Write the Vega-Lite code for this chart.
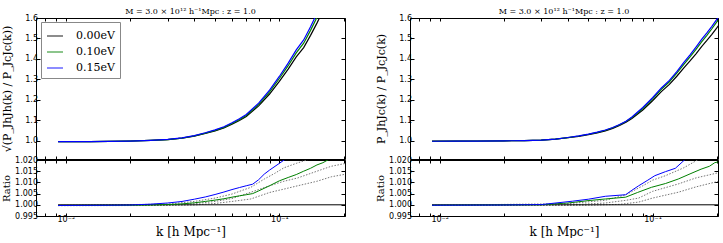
{
  "$schema": "https://vega.github.io/schema/vega-lite/v6.json",
  "padding": {"left": 0, "top": 7, "right": 0, "bottom": 0},
  "config": {
    "view": {"stroke": "black", "strokeWidth": 1},
    "axis": {"domain": false, "grid": false, "tickColor": "black", "labelColor": "black", "labelFont": "DejaVu Sans", "labelFontSize": 8, "titleFont": "DejaVu Serif", "titleFontWeight": "normal", "titleColor": "black", "tickSize": -4, "labelPadding": 2.5, "minExtent": 0},
    "axisLeft": {"minExtent": 22, "maxExtent": 22},
    "legend": {"labelFont": "DejaVu Serif", "labelFontSize": 11}
  },
  "datasets": {
    "topL": [
      {"s": "0.00eV", "k": 0.0092, "v": 0.995}, {"s": "0.00eV", "k": 0.011, "v": 0.995}, {"s": "0.00eV", "k": 0.013, "v": 0.9955}, {"s": "0.00eV", "k": 0.016, "v": 0.9965}, {"s": "0.00eV", "k": 0.02, "v": 0.998}, {"s": "0.00eV", "k": 0.025, "v": 1.001}, {"s": "0.00eV", "k": 0.03, "v": 1.005}, {"s": "0.00eV", "k": 0.035, "v": 1.012}, {"s": "0.00eV", "k": 0.04, "v": 1.022}, {"s": "0.00eV", "k": 0.045, "v": 1.035}, {"s": "0.00eV", "k": 0.05, "v": 1.048}, {"s": "0.00eV", "k": 0.055, "v": 1.062}, {"s": "0.00eV", "k": 0.06, "v": 1.08}, {"s": "0.00eV", "k": 0.065, "v": 1.098}, {"s": "0.00eV", "k": 0.07, "v": 1.118}, {"s": "0.00eV", "k": 0.08, "v": 1.17}, {"s": "0.00eV", "k": 0.09, "v": 1.228}, {"s": "0.00eV", "k": 0.1, "v": 1.29}, {"s": "0.00eV", "k": 0.11, "v": 1.35}, {"s": "0.00eV", "k": 0.12, "v": 1.41}, {"s": "0.00eV", "k": 0.13, "v": 1.455}, {"s": "0.00eV", "k": 0.14, "v": 1.515}, {"s": "0.00eV", "k": 0.15, "v": 1.575}, {"s": "0.00eV", "k": 0.16, "v": 1.635}, {"s": "0.00eV", "k": 0.17, "v": 1.7},
      {"s": "0.10eV", "k": 0.0092, "v": 0.9947}, {"s": "0.10eV", "k": 0.011, "v": 0.9947}, {"s": "0.10eV", "k": 0.013, "v": 0.9952}, {"s": "0.10eV", "k": 0.016, "v": 0.9963}, {"s": "0.10eV", "k": 0.02, "v": 0.9978}, {"s": "0.10eV", "k": 0.025, "v": 1.0009}, {"s": "0.10eV", "k": 0.03, "v": 1.0051}, {"s": "0.10eV", "k": 0.035, "v": 1.0124}, {"s": "0.10eV", "k": 0.04, "v": 1.0229}, {"s": "0.10eV", "k": 0.045, "v": 1.0366}, {"s": "0.10eV", "k": 0.05, "v": 1.0502}, {"s": "0.10eV", "k": 0.055, "v": 1.0649}, {"s": "0.10eV", "k": 0.06, "v": 1.0837}, {"s": "0.10eV", "k": 0.065, "v": 1.1024}, {"s": "0.10eV", "k": 0.07, "v": 1.123}, {"s": "0.10eV", "k": 0.08, "v": 1.177}, {"s": "0.10eV", "k": 0.09, "v": 1.2381}, {"s": "0.10eV", "k": 0.1, "v": 1.3038}, {"s": "0.10eV", "k": 0.11, "v": 1.3665}, {"s": "0.10eV", "k": 0.12, "v": 1.4293}, {"s": "0.10eV", "k": 0.13, "v": 1.4768}, {"s": "0.10eV", "k": 0.14, "v": 1.5395}, {"s": "0.10eV", "k": 0.15, "v": 1.603}, {"s": "0.10eV", "k": 0.16, "v": 1.6661}, {"s": "0.10eV", "k": 0.17, "v": 1.734},
      {"s": "0.15eV", "k": 0.0092, "v": 0.9947}, {"s": "0.15eV", "k": 0.011, "v": 0.9947}, {"s": "0.15eV", "k": 0.013, "v": 0.9952}, {"s": "0.15eV", "k": 0.016, "v": 0.9963}, {"s": "0.15eV", "k": 0.02, "v": 0.9979}, {"s": "0.15eV", "k": 0.025, "v": 1.0013}, {"s": "0.15eV", "k": 0.03, "v": 1.0058}, {"s": "0.15eV", "k": 0.035, "v": 1.0135}, {"s": "0.15eV", "k": 0.04, "v": 1.0246}, {"s": "0.15eV", "k": 0.045, "v": 1.0386}, {"s": "0.15eV", "k": 0.05, "v": 1.0528}, {"s": "0.15eV", "k": 0.055, "v": 1.0681}, {"s": "0.15eV", "k": 0.06, "v": 1.0873}, {"s": "0.15eV", "k": 0.065, "v": 1.1065}, {"s": "0.15eV", "k": 0.07, "v": 1.1275}, {"s": "0.15eV", "k": 0.08, "v": 1.1831}, {"s": "0.15eV", "k": 0.09, "v": 1.247}, {"s": "0.15eV", "k": 0.1, "v": 1.3139}, {"s": "0.15eV", "k": 0.11, "v": 1.379}, {"s": "0.15eV", "k": 0.12, "v": 1.4438}, {"s": "0.15eV", "k": 0.13, "v": 1.4928}, {"s": "0.15eV", "k": 0.14, "v": 1.5574}, {"s": "0.15eV", "k": 0.15, "v": 1.6223}, {"s": "0.15eV", "k": 0.16, "v": 1.6873}, {"s": "0.15eV", "k": 0.17, "v": 1.7578}
    ],
    "topR": [
      {"s": "0.00eV", "k": 0.0092, "v": 0.997}, {"s": "0.00eV", "k": 0.012, "v": 0.9975}, {"s": "0.00eV", "k": 0.015, "v": 0.998}, {"s": "0.00eV", "k": 0.02, "v": 0.999}, {"s": "0.00eV", "k": 0.025, "v": 1.0}, {"s": "0.00eV", "k": 0.03, "v": 1.002}, {"s": "0.00eV", "k": 0.035, "v": 1.007}, {"s": "0.00eV", "k": 0.04, "v": 1.014}, {"s": "0.00eV", "k": 0.045, "v": 1.021}, {"s": "0.00eV", "k": 0.05, "v": 1.029}, {"s": "0.00eV", "k": 0.055, "v": 1.038}, {"s": "0.00eV", "k": 0.06, "v": 1.048}, {"s": "0.00eV", "k": 0.065, "v": 1.06}, {"s": "0.00eV", "k": 0.07, "v": 1.074}, {"s": "0.00eV", "k": 0.075, "v": 1.09}, {"s": "0.00eV", "k": 0.08, "v": 1.108}, {"s": "0.00eV", "k": 0.09, "v": 1.15}, {"s": "0.00eV", "k": 0.1, "v": 1.195}, {"s": "0.00eV", "k": 0.11, "v": 1.24}, {"s": "0.00eV", "k": 0.12, "v": 1.275}, {"s": "0.00eV", "k": 0.13, "v": 1.315}, {"s": "0.00eV", "k": 0.14, "v": 1.355}, {"s": "0.00eV", "k": 0.15, "v": 1.39}, {"s": "0.00eV", "k": 0.16, "v": 1.425}, {"s": "0.00eV", "k": 0.17, "v": 1.46}, {"s": "0.00eV", "k": 0.18, "v": 1.49}, {"s": "0.00eV", "k": 0.19, "v": 1.52}, {"s": "0.00eV", "k": 0.2, "v": 1.55}, {"s": "0.00eV", "k": 0.21, "v": 1.58},
      {"s": "0.10eV", "k": 0.0092, "v": 0.9968}, {"s": "0.10eV", "k": 0.012, "v": 0.9973}, {"s": "0.10eV", "k": 0.015, "v": 0.9978}, {"s": "0.10eV", "k": 0.02, "v": 0.9989}, {"s": "0.10eV", "k": 0.025, "v": 0.9999}, {"s": "0.10eV", "k": 0.03, "v": 1.002}, {"s": "0.10eV", "k": 0.035, "v": 1.0074}, {"s": "0.10eV", "k": 0.04, "v": 1.0148}, {"s": "0.10eV", "k": 0.045, "v": 1.0224}, {"s": "0.10eV", "k": 0.05, "v": 1.031}, {"s": "0.10eV", "k": 0.055, "v": 1.0404}, {"s": "0.10eV", "k": 0.06, "v": 1.0507}, {"s": "0.10eV", "k": 0.065, "v": 1.0631}, {"s": "0.10eV", "k": 0.07, "v": 1.0774}, {"s": "0.10eV", "k": 0.075, "v": 1.0937}, {"s": "0.10eV", "k": 0.08, "v": 1.1125}, {"s": "0.10eV", "k": 0.09, "v": 1.1569}, {"s": "0.10eV", "k": 0.1, "v": 1.2043}, {"s": "0.10eV", "k": 0.11, "v": 1.2513}, {"s": "0.10eV", "k": 0.12, "v": 1.2881}, {"s": "0.10eV", "k": 0.13, "v": 1.3299}, {"s": "0.10eV", "k": 0.14, "v": 1.3718}, {"s": "0.10eV", "k": 0.15, "v": 1.4092}, {"s": "0.10eV", "k": 0.16, "v": 1.4464}, {"s": "0.10eV", "k": 0.17, "v": 1.4834}, {"s": "0.10eV", "k": 0.18, "v": 1.5153}, {"s": "0.10eV", "k": 0.19, "v": 1.5474}, {"s": "0.10eV", "k": 0.2, "v": 1.5795}, {"s": "0.10eV", "k": 0.21, "v": 1.6108},
      {"s": "0.15eV", "k": 0.0092, "v": 0.9968}, {"s": "0.15eV", "k": 0.012, "v": 0.9973}, {"s": "0.15eV", "k": 0.015, "v": 0.9979}, {"s": "0.15eV", "k": 0.02, "v": 0.9989}, {"s": "0.15eV", "k": 0.025, "v": 1.0}, {"s": "0.15eV", "k": 0.03, "v": 1.0022}, {"s": "0.15eV", "k": 0.035, "v": 1.0076}, {"s": "0.15eV", "k": 0.04, "v": 1.0153}, {"s": "0.15eV", "k": 0.045, "v": 1.0229}, {"s": "0.15eV", "k": 0.05, "v": 1.0316}, {"s": "0.15eV", "k": 0.055, "v": 1.0412}, {"s": "0.15eV", "k": 0.06, "v": 1.052}, {"s": "0.15eV", "k": 0.065, "v": 1.0643}, {"s": "0.15eV", "k": 0.07, "v": 1.0786}, {"s": "0.15eV", "k": 0.075, "v": 1.0949}, {"s": "0.15eV", "k": 0.08, "v": 1.1152}, {"s": "0.15eV", "k": 0.09, "v": 1.1621}, {"s": "0.15eV", "k": 0.1, "v": 1.2099}, {"s": "0.15eV", "k": 0.11, "v": 1.2576}, {"s": "0.15eV", "k": 0.12, "v": 1.2948}, {"s": "0.15eV", "k": 0.13, "v": 1.3371}, {"s": "0.15eV", "k": 0.14, "v": 1.3814}, {"s": "0.15eV", "k": 0.15, "v": 1.4199}, {"s": "0.15eV", "k": 0.16, "v": 1.4578}, {"s": "0.15eV", "k": 0.17, "v": 1.495}, {"s": "0.15eV", "k": 0.18, "v": 1.5273}, {"s": "0.15eV", "k": 0.19, "v": 1.5595}, {"s": "0.15eV", "k": 0.2, "v": 1.5919}, {"s": "0.15eV", "k": 0.21, "v": 1.6242}
    ],
    "ratL": [
      {"s": "0.00eV", "k": 0.0092, "v": 1.0}, {"s": "0.00eV", "k": 0.21, "v": 1.0},
      {"s": "0.10eV", "k": 0.0092, "v": 0.9997}, {"s": "0.10eV", "k": 0.02, "v": 0.9998}, {"s": "0.10eV", "k": 0.025, "v": 0.9999}, {"s": "0.10eV", "k": 0.03, "v": 1.0001}, {"s": "0.10eV", "k": 0.035, "v": 1.0004}, {"s": "0.10eV", "k": 0.04, "v": 1.0009}, {"s": "0.10eV", "k": 0.045, "v": 1.0015}, {"s": "0.10eV", "k": 0.05, "v": 1.0021}, {"s": "0.10eV", "k": 0.055, "v": 1.0027}, {"s": "0.10eV", "k": 0.06, "v": 1.0034}, {"s": "0.10eV", "k": 0.065, "v": 1.004}, {"s": "0.10eV", "k": 0.07, "v": 1.0045}, {"s": "0.10eV", "k": 0.075, "v": 1.005}, {"s": "0.10eV", "k": 0.08, "v": 1.0062}, {"s": "0.10eV", "k": 0.09, "v": 1.0085}, {"s": "0.10eV", "k": 0.1, "v": 1.0107}, {"s": "0.10eV", "k": 0.11, "v": 1.0122}, {"s": "0.10eV", "k": 0.12, "v": 1.0135}, {"s": "0.10eV", "k": 0.13, "v": 1.015}, {"s": "0.10eV", "k": 0.14, "v": 1.0163}, {"s": "0.10eV", "k": 0.15, "v": 1.0178}, {"s": "0.10eV", "k": 0.16, "v": 1.0188}, {"s": "0.10eV", "k": 0.17, "v": 1.0202}, {"s": "0.10eV", "k": 0.2, "v": 1.023},
      {"s": "0.15eV", "k": 0.0092, "v": 0.9997}, {"s": "0.15eV", "k": 0.016, "v": 0.9998}, {"s": "0.15eV", "k": 0.02, "v": 0.9999}, {"s": "0.15eV", "k": 0.025, "v": 1.0003}, {"s": "0.15eV", "k": 0.03, "v": 1.0008}, {"s": "0.15eV", "k": 0.035, "v": 1.0015}, {"s": "0.15eV", "k": 0.04, "v": 1.0025}, {"s": "0.15eV", "k": 0.045, "v": 1.0035}, {"s": "0.15eV", "k": 0.05, "v": 1.0046}, {"s": "0.15eV", "k": 0.055, "v": 1.0057}, {"s": "0.15eV", "k": 0.06, "v": 1.0068}, {"s": "0.15eV", "k": 0.065, "v": 1.0077}, {"s": "0.15eV", "k": 0.07, "v": 1.0085}, {"s": "0.15eV", "k": 0.075, "v": 1.0092}, {"s": "0.15eV", "k": 0.08, "v": 1.0112}, {"s": "0.15eV", "k": 0.085, "v": 1.0137}, {"s": "0.15eV", "k": 0.09, "v": 1.0155}, {"s": "0.15eV", "k": 0.1, "v": 1.0185}, {"s": "0.15eV", "k": 0.106, "v": 1.0202}, {"s": "0.15eV", "k": 0.12, "v": 1.024}
    ],
    "ratR": [
      {"s": "0.00eV", "k": 0.0092, "v": 1.0}, {"s": "0.00eV", "k": 0.21, "v": 1.0},
      {"s": "0.10eV", "k": 0.0092, "v": 0.9998}, {"s": "0.10eV", "k": 0.03, "v": 1.0}, {"s": "0.10eV", "k": 0.04, "v": 1.0008}, {"s": "0.10eV", "k": 0.0503, "v": 1.0019}, {"s": "0.10eV", "k": 0.06, "v": 1.0026}, {"s": "0.10eV", "k": 0.0747, "v": 1.0034}, {"s": "0.10eV", "k": 0.085, "v": 1.0055}, {"s": "0.10eV", "k": 0.0988, "v": 1.0078}, {"s": "0.10eV", "k": 0.115, "v": 1.0095}, {"s": "0.10eV", "k": 0.132, "v": 1.0115}, {"s": "0.10eV", "k": 0.15, "v": 1.0138}, {"s": "0.10eV", "k": 0.169, "v": 1.0159}, {"s": "0.10eV", "k": 0.185, "v": 1.0172}, {"s": "0.10eV", "k": 0.196, "v": 1.0188}, {"s": "0.10eV", "k": 0.21, "v": 1.0195},
      {"s": "0.15eV", "k": 0.0092, "v": 0.9998}, {"s": "0.15eV", "k": 0.02, "v": 0.9999}, {"s": "0.15eV", "k": 0.03, "v": 1.0001}, {"s": "0.15eV", "k": 0.042, "v": 1.0016}, {"s": "0.15eV", "k": 0.05, "v": 1.0025}, {"s": "0.15eV", "k": 0.06, "v": 1.0038}, {"s": "0.15eV", "k": 0.0747, "v": 1.0045}, {"s": "0.15eV", "k": 0.08, "v": 1.0065}, {"s": "0.15eV", "k": 0.0861, "v": 1.0085}, {"s": "0.15eV", "k": 0.095, "v": 1.011}, {"s": "0.15eV", "k": 0.1025, "v": 1.013}, {"s": "0.15eV", "k": 0.115, "v": 1.0148}, {"s": "0.15eV", "k": 0.128, "v": 1.0163}, {"s": "0.15eV", "k": 0.142, "v": 1.0202}, {"s": "0.15eV", "k": 0.16, "v": 1.023}
    ],
    "dotL": [
      {"s": "A", "k": 0.0092, "v": 0.9997}, {"s": "A", "k": 0.03, "v": 1.0003}, {"s": "A", "k": 0.04, "v": 1.0015}, {"s": "A", "k": 0.05, "v": 1.003}, {"s": "A", "k": 0.06, "v": 1.0048}, {"s": "A", "k": 0.0735, "v": 1.0078}, {"s": "A", "k": 0.085, "v": 1.0115}, {"s": "A", "k": 0.095, "v": 1.014}, {"s": "A", "k": 0.105, "v": 1.0165}, {"s": "A", "k": 0.12, "v": 1.0185}, {"s": "A", "k": 0.136, "v": 1.0202}, {"s": "A", "k": 0.15, "v": 1.021},
      {"s": "B", "k": 0.0092, "v": 0.9997}, {"s": "B", "k": 0.03, "v": 0.9999}, {"s": "B", "k": 0.04, "v": 1.0005}, {"s": "B", "k": 0.05, "v": 1.0015}, {"s": "B", "k": 0.06, "v": 1.0028}, {"s": "B", "k": 0.0735, "v": 1.0056}, {"s": "B", "k": 0.09, "v": 1.0085}, {"s": "B", "k": 0.105, "v": 1.0105}, {"s": "B", "k": 0.122, "v": 1.012}, {"s": "B", "k": 0.15, "v": 1.015}, {"s": "B", "k": 0.175, "v": 1.0172}, {"s": "B", "k": 0.205, "v": 1.0185},
      {"s": "C", "k": 0.0092, "v": 0.9996}, {"s": "C", "k": 0.03, "v": 0.9997}, {"s": "C", "k": 0.04, "v": 0.9999}, {"s": "C", "k": 0.05, "v": 1.0006}, {"s": "C", "k": 0.06, "v": 1.0015}, {"s": "C", "k": 0.0735, "v": 1.0026}, {"s": "C", "k": 0.09, "v": 1.0055}, {"s": "C", "k": 0.105, "v": 1.007}, {"s": "C", "k": 0.122, "v": 1.0085}, {"s": "C", "k": 0.15, "v": 1.0105}, {"s": "C", "k": 0.175, "v": 1.0125}, {"s": "C", "k": 0.205, "v": 1.0137}
    ],
    "dotR": [
      {"s": "A", "k": 0.0092, "v": 0.9998}, {"s": "A", "k": 0.04, "v": 1.0005}, {"s": "A", "k": 0.06, "v": 1.002}, {"s": "A", "k": 0.075, "v": 1.0045}, {"s": "A", "k": 0.09, "v": 1.0085}, {"s": "A", "k": 0.1, "v": 1.011}, {"s": "A", "k": 0.115, "v": 1.013}, {"s": "A", "k": 0.14, "v": 1.0165}, {"s": "A", "k": 0.164, "v": 1.0202}, {"s": "A", "k": 0.2, "v": 1.023},
      {"s": "B", "k": 0.0092, "v": 0.9997}, {"s": "B", "k": 0.04, "v": 0.9999}, {"s": "B", "k": 0.06, "v": 1.0008}, {"s": "B", "k": 0.075, "v": 1.002}, {"s": "B", "k": 0.086, "v": 1.003}, {"s": "B", "k": 0.1, "v": 1.006}, {"s": "B", "k": 0.132, "v": 1.0093}, {"s": "B", "k": 0.16, "v": 1.012}, {"s": "B", "k": 0.21, "v": 1.0146},
      {"s": "C", "k": 0.0092, "v": 0.9997}, {"s": "C", "k": 0.05, "v": 0.9998}, {"s": "C", "k": 0.07, "v": 1.0002}, {"s": "C", "k": 0.086, "v": 1.0012}, {"s": "C", "k": 0.1, "v": 1.003}, {"s": "C", "k": 0.132, "v": 1.0056}, {"s": "C", "k": 0.16, "v": 1.008}, {"s": "C", "k": 0.21, "v": 1.0108}
    ]
  },
  "hconcat": [
    {
      "vconcat": [
        {
          "width": 309, "height": 141,
          "title": {"text": "M = 3.0 × 10¹² h⁻¹Mpc : z = 1.0", "font": "DejaVu Serif", "fontSize": 8, "fontWeight": "normal", "offset": -2, "anchor": "middle", "color": "black"},
          "data": {"name": "topL"},
          "layer": [
            {
              "mark": {"type": "line", "clip": true, "strokeWidth": 1.2},
              "encoding": {
                "x": {"field": "k", "type": "quantitative", "scale": {"type": "log", "domain": [0.00725, 0.203], "nice": false}, "axis": {"orient": "bottom", "values": [0.008, 0.009, 0.01, 0.02, 0.03, 0.04, 0.05, 0.06, 0.07, 0.08, 0.09, 0.1, 0.2], "labels": false, "title": null, "tickSize": -3}},
                "y": {"field": "v", "type": "quantitative", "scale": {"domain": [0.91, 1.6], "nice": false, "zero": false}, "axis": {"orient": "left", "values": [1.0, 1.1, 1.2, 1.3, 1.4, 1.5, 1.6], "format": ".1f", "title": "√(P_JhJh(k) / P_JcJc(k))", "titleFontSize": 11, "titlePadding": 2}},
                "color": {"field": "s", "type": "nominal", "scale": {"domain": ["0.00eV", "0.10eV", "0.15eV"], "range": ["#000000", "#008000", "#0000ff"]}, "legend": {"orient": "none", "legendX": 5, "legendY": 4, "title": null, "strokeColor": "#888888", "fillColor": "white", "padding": 5, "symbolType": "stroke", "symbolSize": 256, "symbolStrokeWidth": 1.5, "symbolOpacity": 0.6, "rowPadding": 2, "labelOffset": 12, "cornerRadius": 0}}
              }
            },
            {
              "mark": {"type": "line", "opacity": 0, "clip": true},
              "encoding": {
                "x": {"field": "k", "type": "quantitative", "axis": {"orient": "top", "values": [0.008, 0.009, 0.01, 0.02, 0.03, 0.04, 0.05, 0.06, 0.07, 0.08, 0.09, 0.1, 0.2], "labels": false, "title": null, "tickSize": -3}},
                "y": {"field": "v", "type": "quantitative", "axis": {"orient": "right", "values": [1.0, 1.1, 1.2, 1.3, 1.4, 1.5, 1.6], "labels": false, "title": null}},
                "detail": {"field": "s"}
              }
            }
          ],
          "resolve": {"axis": {"x": "independent", "y": "independent"}}
        },
        {
          "width": 309, "height": 56,
          "layer": [
            {
              "data": {"name": "dotL"},
              "mark": {"type": "line", "clip": true, "strokeWidth": 1, "color": "#777777", "strokeDash": [1.5, 1.5]},
              "encoding": {
                "x": {"field": "k", "type": "quantitative", "scale": {"type": "log", "domain": [0.00725, 0.203], "nice": false}, "axis": {"orient": "bottom", "values": [0.008, 0.009, 0.01, 0.02, 0.03, 0.04, 0.05, 0.06, 0.07, 0.08, 0.09, 0.1, 0.2], "labelExpr": "datum.value == 0.01 ? '10⁻²' : datum.value == 0.1 ? '10⁻¹' : ''", "title": "k [h Mpc⁻¹]", "titleFontSize": 12, "titlePadding": 3, "tickSize": -3}},
                "y": {"field": "v", "type": "quantitative", "scale": {"domain": [0.995, 1.02], "nice": false, "zero": false}, "axis": {"orient": "left", "values": [0.995, 1.0, 1.005, 1.01, 1.015, 1.02], "format": ".3f", "title": "Ratio", "titleFontSize": 10, "titlePadding": 3}},
                "detail": {"field": "s"}
              }
            },
            {
              "data": {"name": "ratL"},
              "mark": {"type": "line", "clip": true, "strokeWidth": 1},
              "encoding": {
                "x": {"field": "k", "type": "quantitative", "axis": {"orient": "top", "values": [0.008, 0.009, 0.01, 0.02, 0.03, 0.04, 0.05, 0.06, 0.07, 0.08, 0.09, 0.1, 0.2], "labels": false, "title": null, "tickSize": -3}},
                "y": {"field": "v", "type": "quantitative", "axis": {"orient": "right", "values": [0.995, 1.0, 1.005, 1.01, 1.015, 1.02], "labels": false, "title": null}},
                "color": {"field": "s", "type": "nominal", "scale": {"domain": ["0.00eV", "0.10eV", "0.15eV"], "range": ["#000000", "#008000", "#0000ff"]}, "legend": null}
              }
            }
          ],
          "resolve": {"axis": {"x": "independent", "y": "independent"}}
        }
      ],
      "spacing": -6,
      "resolve": {"scale": {"color": "independent"}}
    },
    {
      "vconcat": [
        {
          "width": 308, "height": 141,
          "title": {"text": "M = 3.0 × 10¹² h⁻¹Mpc : z = 1.0", "font": "DejaVu Serif", "fontSize": 8, "fontWeight": "normal", "offset": -2, "anchor": "middle", "color": "black"},
          "data": {"name": "topR"},
          "layer": [
            {
              "mark": {"type": "line", "clip": true, "strokeWidth": 1.2},
              "encoding": {
                "x": {"field": "k", "type": "quantitative", "scale": {"type": "log", "domain": [0.00725, 0.203], "nice": false}, "axis": {"orient": "bottom", "values": [0.008, 0.009, 0.01, 0.02, 0.03, 0.04, 0.05, 0.06, 0.07, 0.08, 0.09, 0.1, 0.2], "labels": false, "title": null, "tickSize": -3}},
                "y": {"field": "v", "type": "quantitative", "scale": {"domain": [0.91, 1.6], "nice": false, "zero": false}, "axis": {"orient": "left", "values": [1.0, 1.1, 1.2, 1.3, 1.4, 1.5, 1.6], "format": ".1f", "title": "P_JhJc(k) / P_JcJc(k)", "titleFontSize": 11, "titlePadding": 2}},
                "color": {"field": "s", "type": "nominal", "scale": {"domain": ["0.00eV", "0.10eV", "0.15eV"], "range": ["#000000", "#008000", "#0000ff"]}, "legend": null}
              }
            },
            {
              "mark": {"type": "line", "opacity": 0, "clip": true},
              "encoding": {
                "x": {"field": "k", "type": "quantitative", "axis": {"orient": "top", "values": [0.008, 0.009, 0.01, 0.02, 0.03, 0.04, 0.05, 0.06, 0.07, 0.08, 0.09, 0.1, 0.2], "labels": false, "title": null, "tickSize": -3}},
                "y": {"field": "v", "type": "quantitative", "axis": {"orient": "right", "values": [1.0, 1.1, 1.2, 1.3, 1.4, 1.5, 1.6], "labels": false, "title": null}},
                "detail": {"field": "s"}
              }
            }
          ],
          "resolve": {"axis": {"x": "independent", "y": "independent"}}
        },
        {
          "width": 308, "height": 56,
          "layer": [
            {
              "data": {"name": "dotR"},
              "mark": {"type": "line", "clip": true, "strokeWidth": 1, "color": "#777777", "strokeDash": [1.5, 1.5]},
              "encoding": {
                "x": {"field": "k", "type": "quantitative", "scale": {"type": "log", "domain": [0.00725, 0.203], "nice": false}, "axis": {"orient": "bottom", "values": [0.008, 0.009, 0.01, 0.02, 0.03, 0.04, 0.05, 0.06, 0.07, 0.08, 0.09, 0.1, 0.2], "labelExpr": "datum.value == 0.01 ? '10⁻²' : datum.value == 0.1 ? '10⁻¹' : ''", "title": "k [h Mpc⁻¹]", "titleFontSize": 12, "titlePadding": 3, "tickSize": -3}},
                "y": {"field": "v", "type": "quantitative", "scale": {"domain": [0.995, 1.02], "nice": false, "zero": false}, "axis": {"orient": "left", "values": [0.995, 1.0, 1.005, 1.01, 1.015, 1.02], "format": ".3f", "title": "Ratio", "titleFontSize": 10, "titlePadding": 3}},
                "detail": {"field": "s"}
              }
            },
            {
              "data": {"name": "ratR"},
              "mark": {"type": "line", "clip": true, "strokeWidth": 1},
              "encoding": {
                "x": {"field": "k", "type": "quantitative", "axis": {"orient": "top", "values": [0.008, 0.009, 0.01, 0.02, 0.03, 0.04, 0.05, 0.06, 0.07, 0.08, 0.09, 0.1, 0.2], "labels": false, "title": null, "tickSize": -3}},
                "y": {"field": "v", "type": "quantitative", "axis": {"orient": "right", "values": [0.995, 1.0, 1.005, 1.01, 1.015, 1.02], "labels": false, "title": null}},
                "color": {"field": "s", "type": "nominal", "scale": {"domain": ["0.00eV", "0.10eV", "0.15eV"], "range": ["#000000", "#008000", "#0000ff"]}, "legend": null}
              }
            }
          ],
          "resolve": {"axis": {"x": "independent", "y": "independent"}}
        }
      ],
      "spacing": -6,
      "resolve": {"scale": {"color": "independent"}}
    }
  ],
  "spacing": 28,
  "resolve": {"scale": {"color": "independent"}}
}
